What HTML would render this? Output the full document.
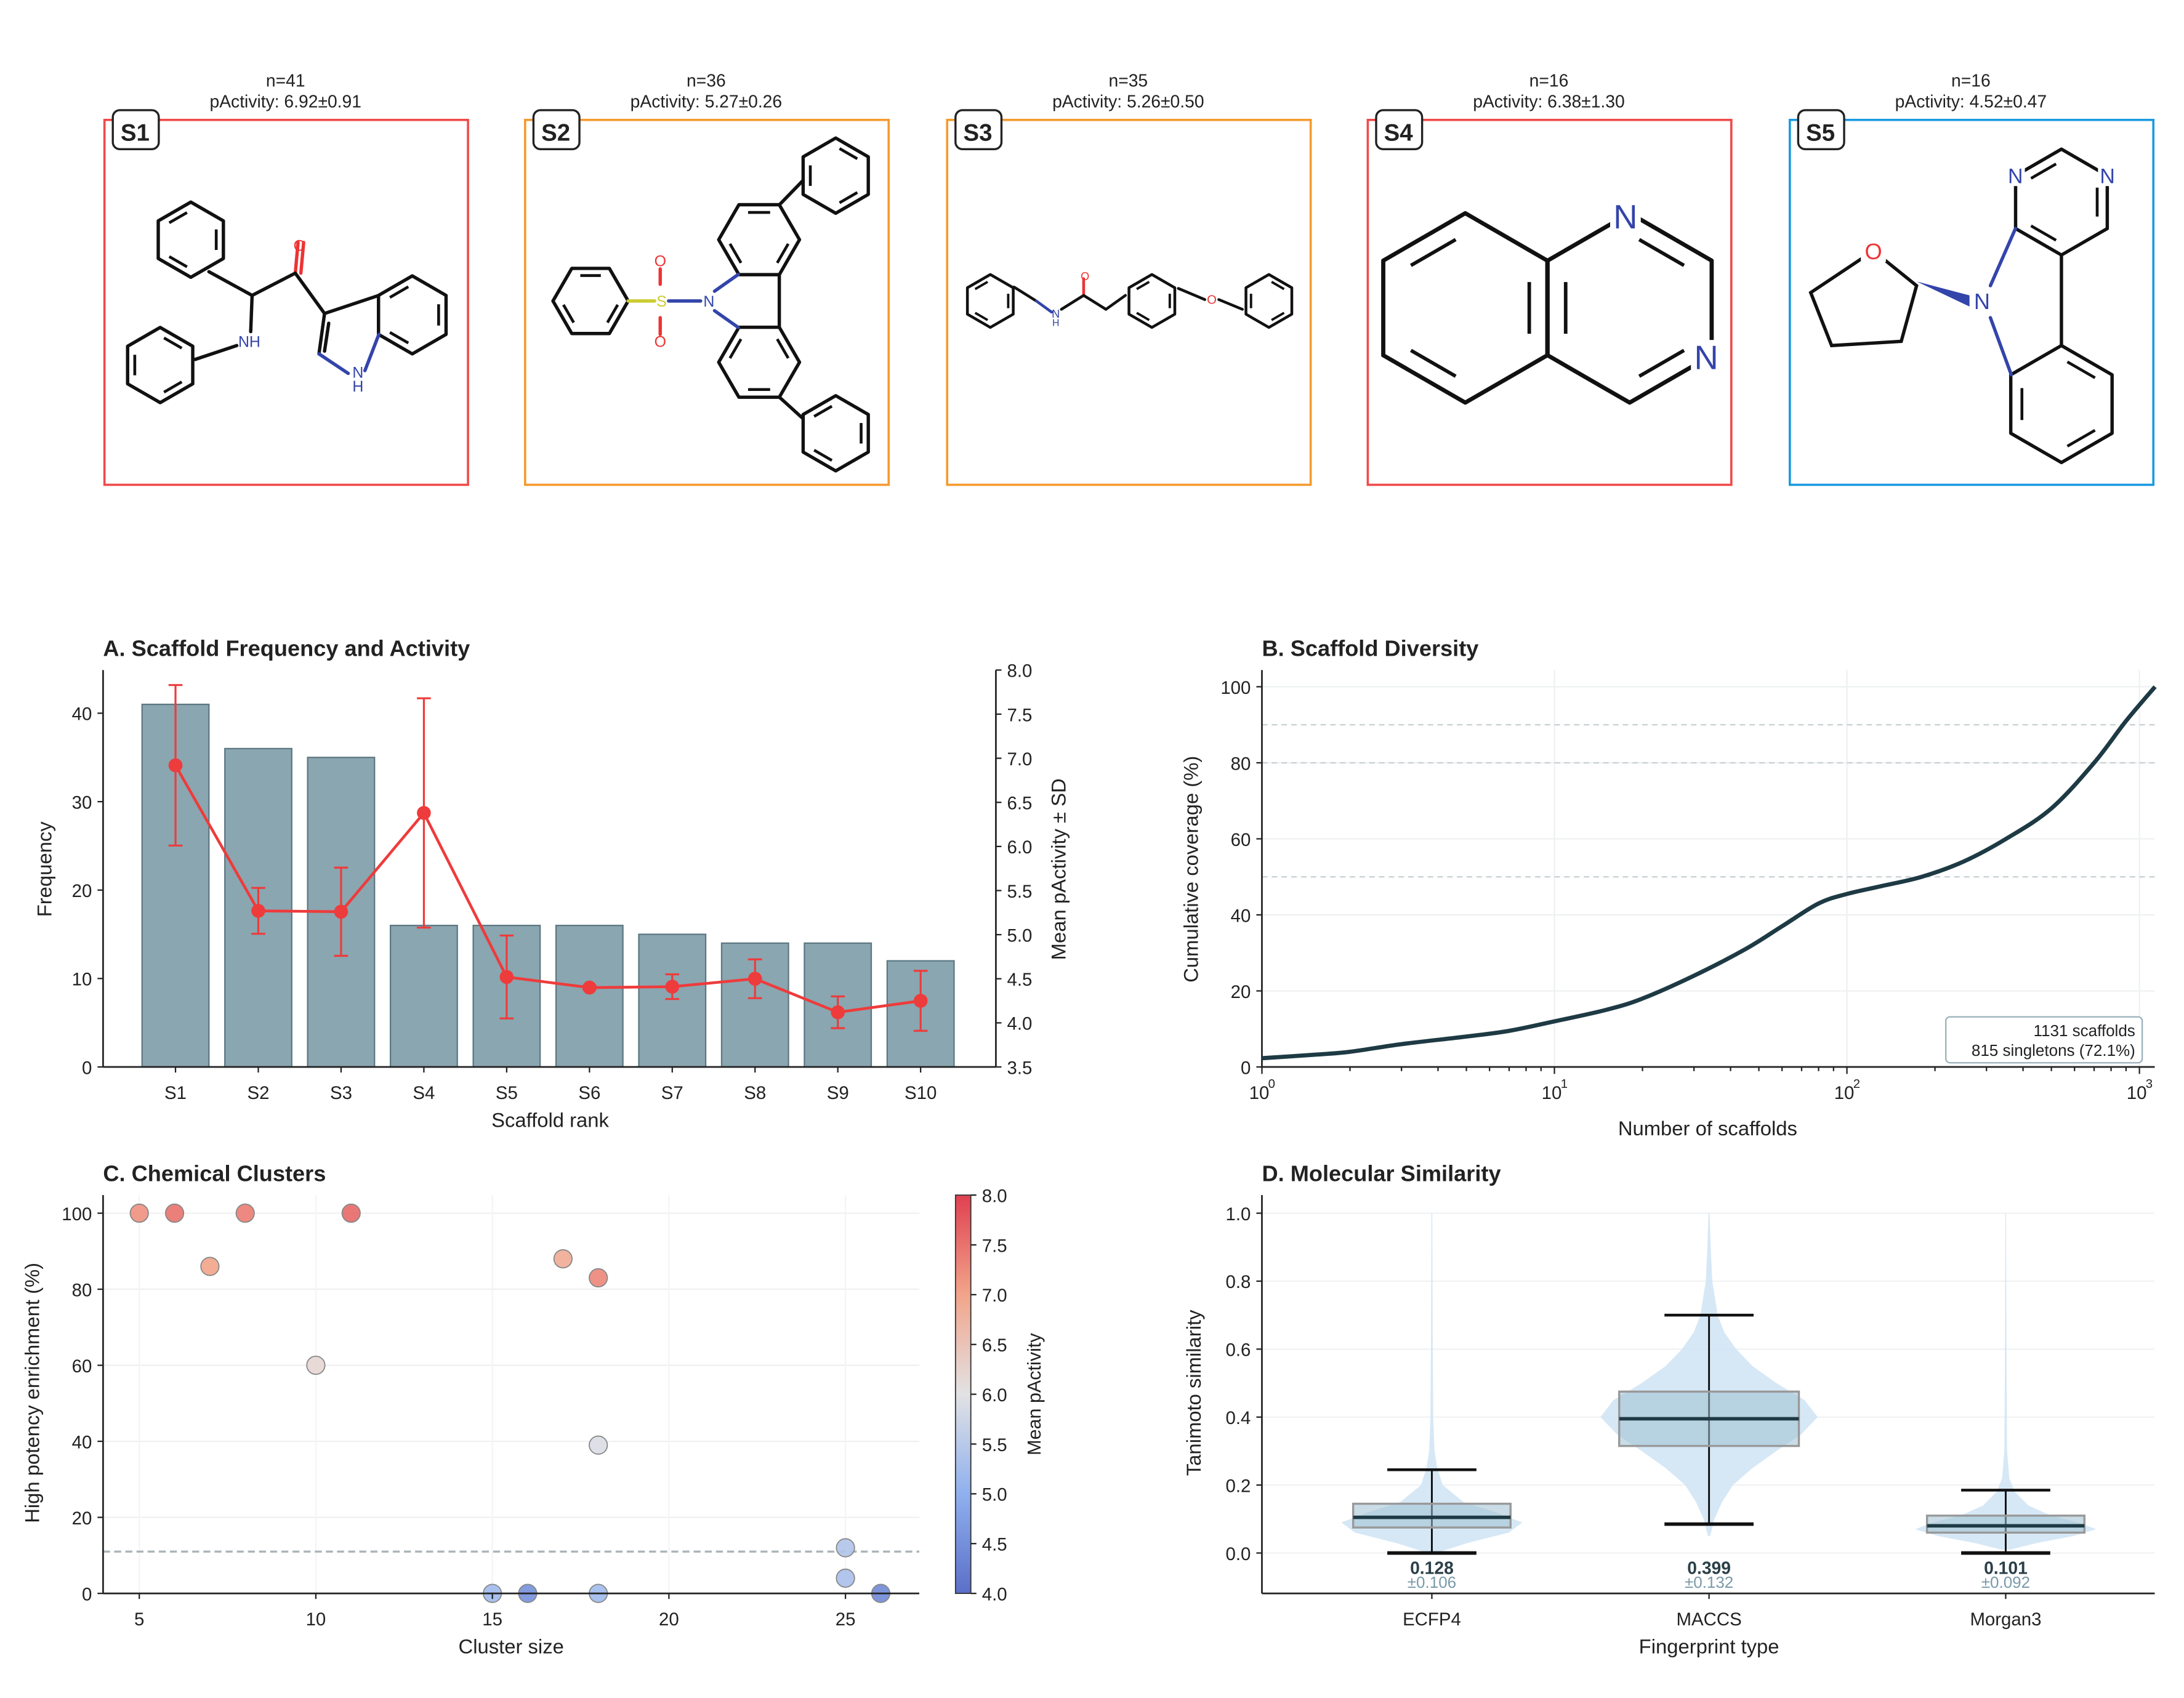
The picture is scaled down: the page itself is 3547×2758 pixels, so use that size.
<!DOCTYPE html>
<html><head><meta charset="utf-8"><style>
html,body{margin:0;padding:0;background:#fff}
svg{display:block;font-family:"Liberation Sans",Arial,sans-serif}
</style></head><body>
<svg id="fig" width="3547" height="2758" viewBox="0 0 1568 1219" xmlns="http://www.w3.org/2000/svg">
<defs>
<linearGradient id="cw" x1="0" y1="1" x2="0" y2="0">
<stop offset="0" stop-color="#5b6fc8"/><stop offset="0.25" stop-color="#8fb0ee"/><stop offset="0.5" stop-color="#e2e2e4"/><stop offset="0.75" stop-color="#f2a48a"/><stop offset="1" stop-color="#e04050"/>
</linearGradient>
</defs>
<g id="mols"></g>
<g id="pa"></g>
<g id="pb"></g>
<g id="pc"></g>
<g id="pd"></g>
</svg>
<script>
// ---------- data ----------
const scaffoldLabels=["S1","S2","S3","S4","S5","S6","S7","S8","S9","S10"];
const scaffoldFreq=[41,36,35,16,16,16,15,14,14,12];
const scaffoldMean=[6.92,5.27,5.26,6.38,4.52,4.40,4.41,4.50,4.12,4.25];
const scaffoldSD=[0.91,0.26,0.50,1.30,0.47,0.02,0.14,0.22,0.18,0.34];
const freqTicks=[0,10,20,30,40];
const actTicks=["3.5","4.0","4.5","5.0","5.5","6.0","6.5","7.0","7.5","8.0"];

const divN=[1,1.5,2,3,5,7,10,15,20,30,45,60,80,100,130,180,250,350,500,700,900,1131];
const divCov=[2.3,3.2,4,6,8,9.5,12,15,18,24,31,37,43,45.5,47.5,50,54,60,68,80,91,100];
const covTicks=[0,20,40,60,80,100];
const covRefLines=[50,80,90];

const clusterSize=[5,6,7,8,11,10,17,18,18,25,25,15,16,18,26];
const clusterEnrich=[100,100,86,100,100,60,88,83,39,12,4,0,0,0,0];
const clusterAct=[7.2,7.5,7.0,7.4,7.6,6.2,6.9,7.3,5.9,5.4,5.3,5.2,4.5,5.2,4.4];
const clusterXTicks=[5,10,15,20,25];
const clusterYTicks=[0,20,40,60,80,100];
const cbarTicks=["4.0","4.5","5.0","5.5","6.0","6.5","7.0","7.5","8.0"];
const enrichThreshold=11;

const fpNames=["ECFP4","MACCS","Morgan3"];
const fpQ1=[0.075,0.315,0.06];
const fpQ3=[0.145,0.475,0.11];
const fpMed=[0.105,0.395,0.08];
const fpWlo=[0.0,0.085,0.0];
const fpWhi=[0.245,0.70,0.185];
const fpMean=["0.128","0.399","0.101"];
const fpSD=["±0.106","±0.132","±0.092"];
const simTicks=["0.0","0.2","0.4","0.6","0.8","1.0"];
const vY0=[0,0.03,0.06,0.09,0.12,0.15,0.2,0.25,0.3,0.4,0.6,1.0];
const vW0=[0.05,0.4,0.85,1.0,0.7,0.35,0.12,0.06,0.03,0.015,0.01,0.005];
const vY1=[0.05,0.1,0.15,0.2,0.25,0.3,0.35,0.4,0.45,0.5,0.55,0.6,0.65,0.7,0.8,0.9,1.0];
const vW1=[0.01,0.05,0.12,0.22,0.4,0.62,0.85,1.0,0.88,0.62,0.4,0.25,0.14,0.08,0.03,0.015,0.005];
const vY2=[0.01,0.03,0.05,0.07,0.09,0.11,0.14,0.18,0.22,0.3,0.5,1.0];
const vW2=[0.05,0.35,0.75,1.0,0.8,0.5,0.25,0.1,0.04,0.015,0.01,0.004];

// ---------- helpers ----------
const NS="http://www.w3.org/2000/svg";
function el(parent,tag,attrs,text){const e=document.createElementNS(NS,tag);for(const k in attrs)e.setAttribute(k,attrs[k]);if(text!==undefined)e.textContent=text;parent.appendChild(e);return e;}
function txt(p,x,y,s,size,anchor,extra){return el(p,"text",Object.assign({x:x,y:y,"font-size":size,"text-anchor":anchor||"middle",fill:"#222"},extra||{}),s);}

// ---------- molecules ----------
const M=document.getElementById("mols");
const boxes=[[75,"#f04a4a","S1","n=41","pActivity: 6.92±0.91"],[377,"#f59a2e","S2","n=36","pActivity: 5.27±0.26"],[680,"#f59a2e","S3","n=35","pActivity: 5.26±0.50"],[982,"#f04a4a","S4","n=16","pActivity: 6.38±1.30"],[1285,"#1a9ae0","S5","n=16","pActivity: 4.52±0.47"]];
boxes.forEach((b,i)=>{
  const g=el(M,"g",{});
  
  
  el(g,"rect",{x:b[0],y:86,width:261,height:262,fill:"none",stroke:b[1],"stroke-width":1.6});
  txt(g,b[0]+130,62,b[3],12.5);
  txt(g,b[0]+130,77,b[4],12.5);
  el(g,"rect",{x:b[0]+6,y:79,width:33,height:28,rx:5,fill:"#fff",stroke:"#222","stroke-width":1.5});
  txt(g,b[0]+22,101,b[2],17,"middle",{"font-weight":"bold"});
});
function hex(cx,cy,r,rot,inner,w){
  const pts=[];for(let k=0;k<6;k++){const a=(rot+60*k)*Math.PI/180;pts.push([cx+r*Math.cos(a),cy+r*Math.sin(a)]);}
  el(M,"polygon",{points:pts.map(p=>p.join(",")).join(" "),fill:"none",stroke:"#111","stroke-width":w||2.4,"stroke-linejoin":"round"});
  (inner||[]).forEach(k=>{const p=pts[k],q=pts[(k+1)%6];const f=0.78;const a=[cx+(p[0]-cx)*f,cy+(p[1]-cy)*f],b=[cx+(q[0]-cx)*f,cy+(q[1]-cy)*f];
    const sh=0.15;el(M,"line",{x1:a[0]+(b[0]-a[0])*sh,y1:a[1]+(b[1]-a[1])*sh,x2:b[0]-(b[0]-a[0])*sh,y2:b[1]-(b[1]-a[1])*sh,stroke:"#111","stroke-width":(w||2.4)*0.85});});
  return pts;
}
function ln(x1,y1,x2,y2,c,w){el(M,"line",{x1,y1,x2,y2,stroke:c||"#111","stroke-width":w||2.4,"stroke-linecap":"round"});}
function at(x,y,s,c,sz){txt(M,x,y,s,sz||11,"middle",{fill:c});}
function lab(x,y,s,c,sz){el(M,"rect",{x:x-sz*0.45,y:y-sz*0.5,width:sz*0.9,height:sz,fill:"#fff"});at(x,y+sz*0.36,s,c,sz);}
// S1
hex(137,172,27,-30,[0,2,4]);hex(115,262,27,-30,[1,3,5]);hex(296,226,28,-30,[0,2,4]);
ln(150,195,181,212);ln(181,212,212,196);ln(212,196,214,174,"#e33");ln(216,196,218,174,"#e33");at(215,180,"O","#e33");
ln(181,212,180,238);at(179,249,"NH","#3344aa");ln(170,248,140,258);
ln(212,196,233,225);ln(233,225,272,212);ln(233,225,229,254);ln(236,232,233,252);ln(229,254,250,268,"#3344aa");ln(262,266,272,240,"#3344aa");at(257,281,"H","#3344aa");at(257,271,"N","#3344aa");
// S2
hex(424,216,27,0,[0,2,4]);ln(451,216,470,216,"#cc3");at(475,220,"S","#cc3");ln(480,216,503,216,"#3344aa");at(509,220,"N","#3344aa");
ln(474,204,474,193,"#e33");at(474,191,"O","#e33");ln(474,228,474,240,"#e33");at(474,249,"O","#e33");
hex(545,172,29,0,[0,2,4]);hex(545,260,29,0,[1,3,5]);
ln(513,209,530,197,"#3344aa");ln(513,223,530,235,"#3344aa");ln(559.5,197,559.5,235);
ln(559.5,147,576,130);ln(559.5,285,576,300);hex(600,126,27,30,[0,2,4]);hex(600,311,27,30,[1,3,5]);
// S3
hex(711,216,19,-30,[0,2,4],2);ln(728,206,744,216,"#111",2);ln(744,216,755,224,"#3344aa",2);at(758,228,"N","#3344aa",8);at(758,234,"H","#3344aa",7);
ln(762,222,778,212,"#111",2);ln(778,212,778,200,"#e33",2);at(779,201,"O","#e33",8);ln(778,212,794,222,"#111",2);ln(794,222,808,212,"#111",2);
hex(827,216,19,-30,[0,2,4],2);ln(846,207,865,215,"#111",2);at(870,218,"O","#e33",9);ln(875,215,892,222,"#111",2);hex(911,216,19,-30,[1,3,5],2);
// S4
hex(1052,221,68,-90,[1,3,5],3);hex(1170,221,68,-90,[0,2,4],3);
el(M,"rect",{x:1156,y:143,width:22,height:24,fill:"#fff"});at(1167,164,"N","#3344aa",24);
el(M,"rect",{x:1214,y:244,width:22,height:24,fill:"#fff"});at(1225,265,"N","#3344aa",24);
// S5
el(M,"polygon",{points:"1345,180 1376,205 1365,245 1315,248 1300,210",fill:"none",stroke:"#111","stroke-width":2.4});
el(M,"rect",{x:1336,y:170,width:18,height:18,fill:"#fff"});at(1345,186,"O","#e33",16);
el(M,"polygon",{points:"1376,202 1414,212 1414,220",fill:"#3344aa"});
hex(1480,145,38,-30,[0,2,4]);hex(1480,290,42,-30,[1,3,5]);
ln(1429,205,1447,164,"#3344aa");ln(1480,183,1480,248);ln(1444,269,1429,228,"#3344aa");
lab(1423,216,"N","#3344aa",16);lab(1447,126,"N","#3344aa",15);lab(1513,126,"N","#3344aa",15);

// ---------- Panel A ----------
(function(){
const P=document.getElementById("pa");
const L=74,R=715,B=766,T=481;
const yF=v=>B-v*6.35, yA=v=>B-(v-3.5)*63.33, xS=i=>126+i*59.44;
txt(P,74,471,"A. Scaffold Frequency and Activity",16,"start",{"font-weight":"bold"});
scaffoldFreq.forEach((v,i)=>{const r=el(P,"rect",{x:xS(i)-24,y:yF(v),width:48,height:B-yF(v),fill:"#8aa6b0",stroke:"#5d7882","stroke-width":1});
 });
el(P,"line",{x1:L,y1:T,x2:L,y2:B,stroke:"#222","stroke-width":1.2});
el(P,"line",{x1:L,y1:B,x2:R,y2:B,stroke:"#222","stroke-width":1.2});
el(P,"line",{x1:R,y1:T,x2:R,y2:B,stroke:"#222","stroke-width":1.2});
freqTicks.forEach(v=>{el(P,"line",{x1:L-4,y1:yF(v),x2:L,y2:yF(v),stroke:"#222"});txt(P,L-8,yF(v)+5,String(v),13,"end");});
actTicks.forEach(s=>{const y=yA(+s);el(P,"line",{x1:R,y1:y,x2:R+4,y2:y,stroke:"#222"});txt(P,R+8,y+5,s,13,"start");});
scaffoldLabels.forEach((s,i)=>{el(P,"line",{x1:xS(i),y1:B,x2:xS(i),y2:B+4,stroke:"#222"});txt(P,xS(i),789,s,13);});
txt(P,395,809,"Scaffold rank",14.5);
txt(P,0,0,"Frequency",14.5,"middle",{transform:"translate(37,624) rotate(-90)"});
txt(P,0,0,"Mean pActivity ± SD",14.5,"middle",{transform:"translate(765,624) rotate(-90)"});
const ln1=el(P,"polyline",{points:scaffoldMean.map((m,i)=>xS(i)+","+yA(m)).join(" "),fill:"none",stroke:"#ee3b3b","stroke-width":2});

scaffoldMean.forEach((m,i)=>{const x=xS(i),y1=yA(m+scaffoldSD[i]),y2=yA(m-scaffoldSD[i]);
 el(P,"line",{x1:x,y1:y1,x2:x,y2:y2,stroke:"#ee3b3b","stroke-width":1.4});
 el(P,"line",{x1:x-5,y1:y1,x2:x+5,y2:y1,stroke:"#ee3b3b","stroke-width":1.4});
 el(P,"line",{x1:x-5,y1:y2,x2:x+5,y2:y2,stroke:"#ee3b3b","stroke-width":1.4});
 const c=el(P,"circle",{cx:x,cy:yA(m),r:5,fill:"#ee3b3b"});
 });
})();

// ---------- Panel B ----------
(function(){
const P=document.getElementById("pb");
const L=906,R=1547,B=766,T=481;
const xL=n=>L+Math.log10(n)*210, yC=v=>B-v*2.73;
txt(P,906,471,"B. Scaffold Diversity",16,"start",{"font-weight":"bold"});
covTicks.forEach(v=>{el(P,"line",{x1:L,y1:yC(v),x2:R,y2:yC(v),stroke:"#eef0f2","stroke-width":1});});
[1,10,100,1000].forEach(n=>el(P,"line",{x1:xL(n),y1:T,x2:xL(n),y2:B,stroke:"#eef0f2"}));
covRefLines.forEach(v=>{const l=el(P,"line",{x1:L,y1:yC(v),x2:R,y2:yC(v),stroke:"#c8d0d4","stroke-width":1,"stroke-dasharray":"4,3"});
 });
el(P,"line",{x1:L,y1:T,x2:L,y2:B,stroke:"#222","stroke-width":1.2});
el(P,"line",{x1:L,y1:B,x2:R,y2:B,stroke:"#222","stroke-width":1.2});
covTicks.forEach(v=>{el(P,"line",{x1:L-4,y1:yC(v),x2:L,y2:yC(v),stroke:"#222"});txt(P,L-8,yC(v)+5,String(v),13,"end");});
for(let d=0;d<4;d++)for(let k=1;k<10;k++){const n=k*Math.pow(10,d);if(n>1131)break;const x=xL(n);
 el(P,"line",{x1:x,y1:B,x2:x,y2:B+(k===1?5:3),stroke:"#222"});}
[0,1,2,3].forEach(d=>{txt(P,xL(Math.pow(10,d))-2,789,"10",13);txt(P,xL(Math.pow(10,d))+7,781,String(d),9);});
txt(P,1226,815,"Number of scaffolds",14.5);
txt(P,0,0,"Cumulative coverage (%)",14.5,"middle",{transform:"translate(860,624) rotate(-90)"});
const pts=divN.map((n,i)=>[xL(n),yC(divCov[i])]);
let d="M"+pts[0][0]+","+pts[0][1];
for(let i=1;i<pts.length;i++){const p0=pts[Math.max(0,i-2)],p1=pts[i-1],p2=pts[i],p3=pts[Math.min(pts.length-1,i+1)];
 d+=" C"+(p1[0]+(p2[0]-p0[0])/6)+","+(p1[1]+(p2[1]-p0[1])/6)+" "+(p2[0]-(p3[0]-p1[0])/6)+","+(p2[1]-(p3[1]-p1[1])/6)+" "+p2[0]+","+p2[1];}
const c=el(P,"path",{d:d,fill:"none",stroke:"#1e3a44","stroke-width":3});

const g=el(P,"g",{});
el(g,"rect",{x:1397,y:730,width:141,height:33,rx:3,fill:"#fff",stroke:"#9ab0ba","stroke-width":1});
txt(g,1533,744,"1131 scaffolds",11.5,"end");txt(g,1533,758,"815 singletons (72.1%)",11.5,"end");
})();

// ---------- Panel C ----------
(function(){
const P=document.getElementById("pc");
const L=74,R=660,B=1144,T=858;
const xC=v=>100+(v-5)*25.35, yE=v=>B-v*2.73;
txt(P,74,848,"C. Chemical Clusters",16,"start",{"font-weight":"bold"});
clusterYTicks.forEach(v=>el(P,"line",{x1:L,y1:yE(v),x2:R,y2:yE(v),stroke:"#f0f0f0"}));
clusterXTicks.forEach(v=>el(P,"line",{x1:xC(v),y1:T,x2:xC(v),y2:B,stroke:"#f4f4f4"}));
el(P,"line",{x1:L,y1:yE(enrichThreshold),x2:R,y2:yE(enrichThreshold),stroke:"#aab4b8","stroke-width":1.5,"stroke-dasharray":"5,3"});
function cmap(v){const t=Math.max(0,Math.min(1,(v-4)/4));const st=[[0,[91,111,200]],[0.25,[143,176,238]],[0.5,[226,226,228]],[0.75,[242,164,138]],[1,[224,64,80]]];
 for(let i=1;i<st.length;i++)if(t<=st[i][0]){const a=st[i-1],b=st[i],f=(t-a[0])/(b[0]-a[0]);return "rgb("+a[1].map((c,k)=>Math.round(c+(b[1][k]-c)*f)).join(",")+")";}return "rgb(224,64,80)";}
clusterSize.forEach((s,i)=>{const c=el(P,"circle",{cx:xC(s),cy:yE(clusterEnrich[i]),r:6.5,fill:cmap(clusterAct[i]),stroke:"#888","stroke-width":0.8,"fill-opacity":0.9});
 });
el(P,"line",{x1:L,y1:T,x2:L,y2:B,stroke:"#222","stroke-width":1.2});
el(P,"line",{x1:L,y1:B,x2:R,y2:B,stroke:"#222","stroke-width":1.2});
clusterYTicks.forEach(v=>{el(P,"line",{x1:L-4,y1:yE(v),x2:L,y2:yE(v),stroke:"#222"});txt(P,L-8,yE(v)+5,String(v),13,"end");});
clusterXTicks.forEach(v=>{el(P,"line",{x1:xC(v),y1:B,x2:xC(v),y2:B+4,stroke:"#222"});txt(P,xC(v),1167,String(v),13);});
txt(P,367,1187,"Cluster size",14.5);
txt(P,0,0,"High potency enrichment (%)",14.5,"middle",{transform:"translate(28,1000) rotate(-90)"});
const cb=el(P,"rect",{x:686,y:858,width:11,height:286,fill:"url(#cw)",stroke:"#333","stroke-width":0.8});

cbarTicks.forEach(s=>{const y=1144-(+s-4)*71.5;el(P,"line",{x1:697,y1:y,x2:701,y2:y,stroke:"#222"});txt(P,705,y+5,s,13,"start");});
txt(P,0,0,"Mean pActivity",13.5,"middle",{transform:"translate(747,1001) rotate(-90)"});
})();

// ---------- Panel D ----------
(function(){
const P=document.getElementById("pd");
const L=906,R=1547,B=1144,T=858;
const yS=v=>1115-v*244, xF=i=>[1028,1227,1440][i];
txt(P,906,848,"D. Molecular Similarity",16,"start",{"font-weight":"bold"});
simTicks.forEach(s=>el(P,"line",{x1:L,y1:yS(+s),x2:R,y2:yS(+s),stroke:"#f0f2f4"}));
const vys=[vY0,vY1,vY2],vws=[vW0,vW1,vW2],vmax=[65,78,65];
fpNames.forEach((n,i)=>{const x=xF(i),ys=vys[i],ws=vws[i];
 let right=ys.map((y,k)=>[x+ws[k]*vmax[i],yS(y)]),left=ys.map((y,k)=>[x-ws[k]*vmax[i],yS(y)]).reverse();
 const v=el(P,"polygon",{points:right.concat(left).map(p=>p.join(",")).join(" "),fill:"#cfe4f5","fill-opacity":0.85,stroke:"none"});
 
 const bw=[113,129,113][i];
 el(P,"line",{x1:x,y1:yS(fpWlo[i]),x2:x,y2:yS(fpWhi[i]),stroke:"#111","stroke-width":1.3});
 el(P,"line",{x1:x-32,y1:yS(fpWhi[i]),x2:x+32,y2:yS(fpWhi[i]),stroke:"#111","stroke-width":2});
 el(P,"line",{x1:x-32,y1:yS(fpWlo[i]),x2:x+32,y2:yS(fpWlo[i]),stroke:"#111","stroke-width":2.5});
 const b=el(P,"rect",{x:x-bw/2,y:yS(fpQ3[i]),width:bw,height:yS(fpQ1[i])-yS(fpQ3[i]),fill:"#9fbfd0","fill-opacity":0.55,stroke:"#999","stroke-width":1.5});
 
 el(P,"line",{x1:x-bw/2,y1:yS(fpMed[i]),x2:x+bw/2,y2:yS(fpMed[i]),stroke:"#1e3a44","stroke-width":2.5});
 txt(P,x,1130,fpMean[i],12.5,"middle",{"font-weight":"bold",fill:"#2a3f48"});
 txt(P,x,1140,fpSD[i],11.5,"middle",{fill:"#7a9aa8"});
 el(P,"line",{x1:x,y1:B,x2:x,y2:B+4,stroke:"#222"});txt(P,x,1167,n,13);
});
el(P,"line",{x1:L,y1:T,x2:L,y2:B,stroke:"#222","stroke-width":1.2});
el(P,"line",{x1:L,y1:B,x2:R,y2:B,stroke:"#222","stroke-width":1.2});
simTicks.forEach(s=>{const y=yS(+s);el(P,"line",{x1:L-4,y1:y,x2:L,y2:y,stroke:"#222"});txt(P,L-8,y+5,s,13,"end");});
txt(P,1227,1187,"Fingerprint type",14.5);
txt(P,0,0,"Tanimoto similarity",14.5,"middle",{transform:"translate(862,1000) rotate(-90)"});
})();
</script>
</body></html>
